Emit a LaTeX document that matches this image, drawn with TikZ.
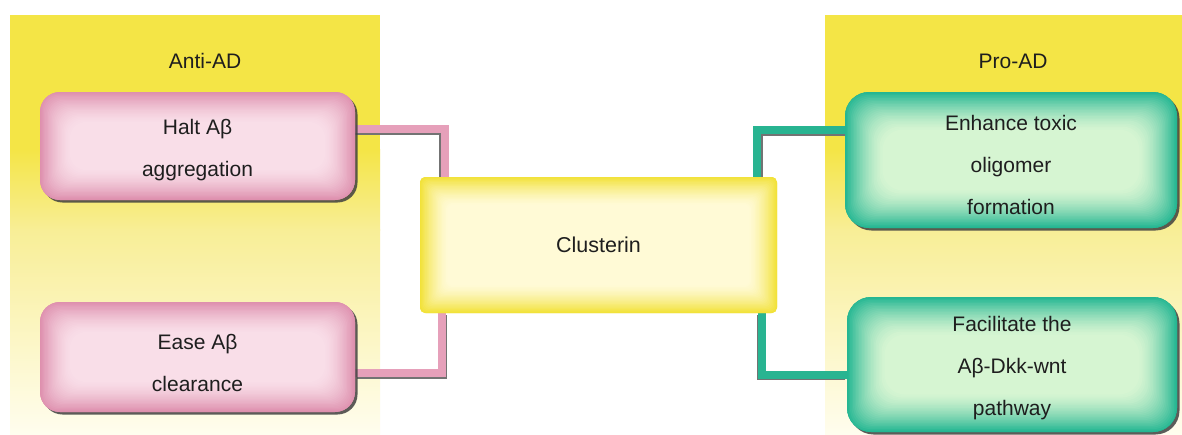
\documentclass[tikz,border=0pt]{standalone}
\usepackage{fontspec}
\setmainfont{Liberation Sans}
\usetikzlibrary{shadows}
\definecolor{panelY}{RGB}{244,229,70}
\definecolor{panelMid}{RGB}{248,238,150}
\definecolor{panelLow}{RGB}{255,253,238}
\definecolor{pinkedge}{RGB}{222,144,174}
\definecolor{pinkcenter}{RGB}{249,222,232}
\definecolor{greenedge}{RGB}{36,182,146}
\definecolor{greencenter}{RGB}{214,245,210}
\definecolor{yedge}{RGB}{242,226,58}
\definecolor{ycenter}{RGB}{255,250,214}
\definecolor{pinkline}{RGB}{230,160,186}
\definecolor{greenline}{RGB}{40,180,145}
\definecolor{txt}{RGB}{30,30,30}
\pgfdeclarelayer{panel}
\pgfdeclarelayer{conn}
\pgfsetlayers{panel,conn,main}
\newcommand{\glowfill}[5]{% edge, center, steps, radius, stepsize
  \foreach \i in {0,...,#3}{
    \pgfmathtruncatemacro\pc{100*(1-\i/#3)^1.5}
    \fill[color=#1!\pc!#2, rounded corners=#4]
      ([shift={(\i*#5,-\i*#5)}]path picture bounding box.north west) rectangle
      ([shift={(-\i*#5,\i*#5)}]path picture bounding box.south east);
  }
}
\tikzset{
  boxtext/.style={text=txt, align=center, font=\fontsize{21}{42}\selectfont, inner sep=0pt},
  pinkbox/.style={rounded corners=20pt, fill=pinkedge, inner sep=0pt,
    drop shadow={shadow xshift=2.5pt, shadow yshift=-2.5pt, fill=black!75, opacity=0.85},
    path picture={\glowfill{pinkedge}{pinkcenter}{24}{16pt}{1.3pt}}},
  greenbox/.style={rounded corners=24pt, fill=greenedge, inner sep=0pt,
    drop shadow={shadow xshift=2.5pt, shadow yshift=-2.5pt, fill=black!75, opacity=0.85},
    path picture={\glowfill{greenedge}{greencenter}{26}{20pt}{1.5pt}}},
  clusbox/.style={boxtext, font=\fontsize{21.5}{42}\selectfont, rounded corners=5pt, fill=yedge, inner sep=0pt,
    path picture={\glowfill{yedge}{ycenter}{22}{6pt}{1.3pt}}},
  paneltitle/.style={text=txt, font=\fontsize{21}{24}\selectfont},
  conline/.style={line width=8pt, line join=miter},
  conshadow/.style={line width=8pt, line join=miter, draw=black!55},
}
\begin{document}
\begin{tikzpicture}[x=1pt,y=-1pt]
\useasboundingbox (0,0) rectangle (1182,434);
\begin{pgfonlayer}{panel}
\fill[white] (0,0) rectangle (1182,434);
\fill[panelY] (10,15) rectangle (380,150);
\fill[panelY] (825,15) rectangle (1182,150);
\shade[top color=panelY, bottom color=panelMid] (10,149) rectangle (380,230);
\shade[top color=panelY, bottom color=panelMid] (825,149) rectangle (1182,230);
\shade[top color=panelMid, bottom color=panelLow] (10,229) rectangle (380,434);
\shade[top color=panelMid, bottom color=panelLow] (825,229) rectangle (1182,434);
\end{pgfonlayer}

\node[paneltitle] (antititle) at (205,61) {Anti-AD};
\node[paneltitle] (protitle) at (1013,61) {Pro-AD};

\node[pinkbox, minimum width=315, minimum height=108,
  label={[boxtext, yshift=-4pt]center:{Halt Aβ\\aggregation}}] (h1) at (197.5,146) {};
\node[pinkbox, minimum width=315, minimum height=110,
  label={[boxtext, yshift=-6pt]center:{Ease Aβ\\clearance}}] (h2) at (197.5,357) {};
\node[greenbox, minimum width=332, minimum height=136,
  label={[boxtext, yshift=-5pt]center:{Enhance toxic\\oligomer\\formation}}] (g1) at (1011,160) {};
\node[greenbox, minimum width=330, minimum height=135,
  label={[boxtext, yshift=-3.5pt]center:{Facilitate the\\Aβ-Dkk-wnt\\pathway}}] (g2) at (1012,364.5) {};
\node[clusbox, minimum width=357, minimum height=136] (clus) at (598.5,245) {Clusterin};

\begin{pgfonlayer}{conn}
\draw[conshadow, transform canvas={xshift=-1.5pt,yshift=-1.5pt}] ([yshift=17pt]h1.east) -| ([xshift=25pt]clus.north west);
\draw[conline, draw=pinkline] ([yshift=17pt]h1.east) -| ([xshift=25pt]clus.north west);
\draw[conshadow, transform canvas={xshift=1.5pt,yshift=-1.5pt}] ([yshift=-16pt]h2.east) -| ([xshift=22pt]clus.south west);
\draw[conline, draw=pinkline] ([yshift=-16pt]h2.east) -| ([xshift=22pt]clus.south west);
\draw[conshadow, transform canvas={xshift=1.5pt,yshift=-1.5pt}] ([yshift=30pt]g1.west) -| ([xshift=-20pt]clus.north east);
\draw[conline, draw=greenline] ([yshift=30pt]g1.west) -| ([xshift=-20pt]clus.north east);
\draw[conshadow, transform canvas={xshift=-1.5pt,yshift=-1.5pt}] ([yshift=-10pt]g2.west) -| ([xshift=-15pt]clus.south east);
\draw[conline, draw=greenline] ([yshift=-10pt]g2.west) -| ([xshift=-15pt]clus.south east);
\end{pgfonlayer}
\end{tikzpicture}
\end{document}
